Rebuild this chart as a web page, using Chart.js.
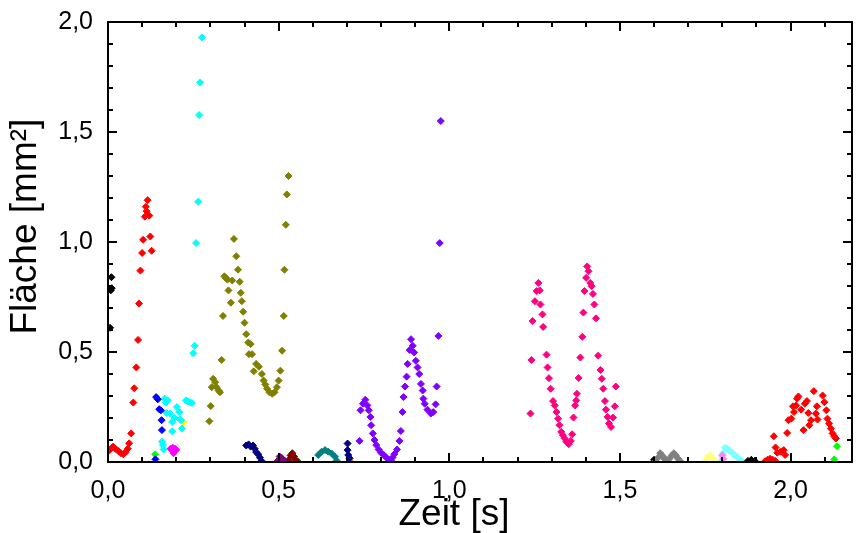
<!DOCTYPE html>
<html>
<head>
<meta charset="utf-8">
<script src="https://cdn.jsdelivr.net/npm/chart.js@4/dist/chart.umd.min.js"></script>
<style>
  html, body { margin: 0; padding: 0; background: #fff; }
</style>
</head>
<body>
<canvas id="myChart" width="858" height="533"></canvas>
<script>
// axis settings
var xMax = 2.18;
var yMax = 2.0;
var minorStep = 0.1;
var majorStep = 0.5;
var xTitle = 'Zeit [s]';
var yTitle = 'Fläche [mm²]';

// measured series, [zeit, fläche]
var black1 = [[0.010,0.84],[0.011,0.79],[0.008,0.78],[0.006,0.61]];
var red1 = [[0.002,0.05],[0.008,0.06],[0.015,0.07],[0.022,0.06],[0.030,0.05],[0.038,0.04],[0.045,0.035],
  [0.052,0.045],[0.058,0.06],[0.062,0.085],[0.068,0.13],[0.074,0.27],[0.077,0.335],[0.083,0.43],
  [0.088,0.555],[0.091,0.72],[0.095,0.87],[0.100,0.95],[0.103,1.01],[0.108,1.115],[0.111,1.16],
  [0.116,1.19],[0.113,1.14],[0.121,1.12],[0.124,1.025],[0.128,0.96]];
var blue1 = [[0.141,0.295],[0.146,0.285],[0.150,0.24],[0.155,0.235],[0.157,0.19],[0.158,0.145],[0.139,0.012]];
var lime1 = [[0.138,0.035],[2.128,0.012],[2.136,0.072]];
var cyan1 = [[0.166,0.288],[0.175,0.28],[0.170,0.27],[0.172,0.223],[0.182,0.22],[0.195,0.2],[0.202,0.25],
  [0.209,0.227],[0.188,0.182],[0.211,0.193],[0.188,0.14],[0.161,0.077],[0.158,0.092],[0.163,0.057],
  [0.229,0.28],[0.234,0.275],[0.240,0.272],[0.246,0.268],[0.214,0.19],[0.217,0.152],
  [0.250,0.494],[0.254,0.528],[0.258,0.995],[0.264,1.183],[0.267,1.577],[0.270,1.725],[0.275,1.93]];
var magenta1 = [[0.183,0.06],[0.190,0.065],[0.197,0.06],[0.200,0.055],[0.192,0.04],[0.195,0.05]];
var yellow1 = [[0.221,0.182]];
var olive1 = [[0.297,0.185],[0.301,0.254],[0.304,0.34],[0.308,0.378],[0.314,0.363],[0.318,0.34],
  [0.324,0.325],[0.328,0.317],[0.333,0.464],[0.337,0.664],[0.341,0.844],[0.345,0.837],[0.350,0.829],
  [0.353,0.78],[0.360,0.724],[0.364,0.825],[0.369,1.014],[0.376,0.935],[0.381,0.874],[0.386,0.819],
  [0.389,0.769],[0.392,0.731],[0.396,0.683],[0.400,0.633],[0.405,0.581],[0.411,0.543],[0.418,0.536],
  [0.413,0.49],[0.422,0.49],[0.434,0.446],[0.442,0.433],[0.427,0.412],[0.451,0.40],[0.456,0.37],
  [0.461,0.352],[0.466,0.333],[0.473,0.317],[0.481,0.31],[0.488,0.317],[0.495,0.34],[0.500,0.37],
  [0.505,0.415],[0.510,0.506],[0.515,0.664],[0.517,0.874],[0.521,1.078],[0.524,1.216],[0.529,1.30]];
var navy1 = [[0.405,0.075],[0.412,0.08],[0.418,0.07],[0.425,0.075],[0.430,0.06],[0.434,0.045],
  [0.440,0.035],[0.445,0.02],[0.450,0.005]];
var purple1 = [[0.497,0.005],[0.503,0.025],[0.508,0.02],[0.513,0.01],[0.518,0.005]];
var maroon1 = [[0.530,0.01],[0.535,0.03],[0.540,0.04],[0.545,0.025],[0.550,0.01]];
var green1 = [[0.553,0.005],[0.557,0.002]];
var teal1 = [[0.616,0.032],[0.626,0.047],[0.636,0.054],[0.645,0.047],[0.655,0.039],[0.665,0.024],[0.670,0.006]];
var navy2 = [[0.702,0.084],[0.702,0.054],[0.704,0.032],[0.708,0.017]];
var orange1 = [[0.711,0.001]];
var violet1 = [[0.737,0.096],[0.740,0.235],[0.747,0.265],[0.754,0.283],[0.760,0.257],[0.764,0.235],
  [0.769,0.205],[0.771,0.167],[0.776,0.13],[0.781,0.10],[0.786,0.077],[0.793,0.057],[0.800,0.042],
  [0.808,0.032],[0.815,0.021],[0.822,0.012],[0.829,0.006],[0.834,0.021],[0.839,0.036],[0.847,0.057],
  [0.854,0.096],[0.858,0.141],[0.863,0.227],[0.866,0.295],[0.870,0.343],[0.875,0.388],[0.878,0.446],
  [0.884,0.509],[0.888,0.558],[0.893,0.528],[0.897,0.498],[0.902,0.46],[0.907,0.43],[0.912,0.40],
  [0.917,0.355],[0.922,0.325],[0.924,0.288],[0.928,0.265],[0.936,0.238],[0.946,0.22],[0.953,0.227],
  [0.960,0.262],[0.963,0.343],[0.968,0.573],[0.972,0.995],[0.975,1.55]];
var pink1 = [[1.238,0.22],[1.241,0.464],[1.244,0.641],[1.251,0.731],[1.256,0.777],[1.261,0.814],
  [1.265,0.78],[1.267,0.716],[1.273,0.671],[1.275,0.614],[1.285,0.488],[1.288,0.43],[1.292,0.381],
  [1.297,0.333],[1.304,0.277],[1.309,0.257],[1.314,0.227],[1.319,0.197],[1.323,0.167],[1.328,0.137],
  [1.333,0.122],[1.338,0.107],[1.343,0.092],[1.350,0.081],[1.356,0.096],[1.360,0.126],[1.364,0.202],
  [1.369,0.257],[1.372,0.28],[1.374,0.31],[1.379,0.382],[1.384,0.475],[1.390,0.569],[1.393,0.679],
  [1.396,0.777],[1.401,0.837],[1.404,0.889],[1.408,0.867],[1.413,0.814],[1.417,0.799],[1.421,0.764],
  [1.425,0.716],[1.430,0.653],[1.436,0.483],[1.443,0.418],[1.447,0.378],[1.451,0.333],[1.456,0.277],
  [1.459,0.238],[1.464,0.205],[1.468,0.175],[1.474,0.159],[1.480,0.202],[1.485,0.253],[1.488,0.343]];
var gray1 = [[1.605,0.005],[1.612,0.02],[1.618,0.04],[1.624,0.03],[1.630,0.015],[1.637,0.01],
  [1.645,0.015],[1.652,0.03],[1.658,0.04],[1.664,0.03],[1.670,0.015],[1.676,0.005]];
var black2 = [[1.600,0.01],[1.875,0.005],[1.885,0.01],[1.895,0.005]];
var lightYellow1 = [[1.752,0.005],[1.758,0.025],[1.765,0.03],[1.772,0.015],[1.778,0.005]];
var lightMagenta1 = [[1.800,0.03],[1.803,0.015]];
var lightCyan1 = [[1.797,0.005],[1.802,0.04],[1.808,0.065],[1.815,0.06],[1.822,0.05],[1.830,0.04],
  [1.838,0.03],[1.845,0.02],[1.852,0.01],[1.858,0.003]];
var red2 = [[1.925,0.003],[1.932,0.01],[1.940,0.015],[1.948,0.01],[1.955,0.005],[1.956,0.066],
  [1.961,0.042],[1.951,0.117],[1.971,0.047],[1.980,0.054],[1.984,0.032],[1.990,0.132],[1.994,0.19],
  [2.002,0.197],[2.010,0.227],[2.016,0.257],[2.019,0.288],[2.023,0.298],[2.007,0.253],[2.031,0.238],
  [2.038,0.145],[2.042,0.265],[2.048,0.277],[2.052,0.223],[2.055,0.167],[2.060,0.19],[2.068,0.322],
  [2.074,0.22],[2.077,0.253],[2.079,0.193],[2.094,0.302],[2.099,0.272],[2.105,0.235],[2.108,0.197],
  [2.113,0.175],[2.118,0.152],[2.123,0.13],[2.128,0.117],[2.133,0.107]];

var seriesList = [black1, red1, blue1, lime1, cyan1, magenta1, yellow1, olive1, navy1, purple1,
  maroon1, green1, teal1, navy2, orange1, violet1, pink1, gray1, black2, lightYellow1,
  lightMagenta1, lightCyan1, red2];
var seriesColors = ['#000000', '#ff0000', '#0000ff', '#00ff00', '#00ffff', '#ff00ff', '#ffff00', '#808000',
  '#000080', '#800080', '#800000', '#008000', '#008080', '#000080', '#ff8000', '#8000ff', '#ff0080',
  '#808080', '#000000', '#ffff80', '#ff80ff', '#80ffff', '#ff0000'];

function fmt(v) {
  var k = v / majorStep;
  if (Math.abs(k - Math.round(k)) > 1e-6) return '';
  return v.toFixed(1).replace('.', ',');
}

var fontFamily = "'Liberation Sans', Arial, sans-serif";

// frame + inward ticks on all four sides, axis titles (offset like the original)
var framePlugin = {
  id: 'frame',
  afterDatasetsDraw: function (chart) {
    var ctx = chart.ctx;
    var a = chart.chartArea;
    var xs = chart.scales.x, ys = chart.scales.y;
    ctx.save();
    ctx.strokeStyle = '#000';
    ctx.lineWidth = 2;
    ctx.strokeRect(a.left, a.top, a.right - a.left, a.bottom - a.top);
    ctx.beginPath();
    for (var i = 0; i * minorStep <= xMax + 1e-9; i++) {
      var v = i * minorStep;
      var px = Math.round(xs.getPixelForValue(v));
      var len = fmt(v) !== '' ? 9 : 5;
      ctx.moveTo(px, a.bottom); ctx.lineTo(px, a.bottom - len);
      ctx.moveTo(px, a.top); ctx.lineTo(px, a.top + len);
    }
    for (var j = 0; j * minorStep <= yMax + 1e-9; j++) {
      var w = j * minorStep;
      var py = Math.round(ys.getPixelForValue(w));
      var l2 = fmt(w) !== '' ? 9 : 5;
      ctx.moveTo(a.left, py); ctx.lineTo(a.left + l2, py);
      ctx.moveTo(a.right, py); ctx.lineTo(a.right - l2, py);
    }
    ctx.stroke();

    ctx.fillStyle = '#000';
    ctx.font = '37px ' + fontFamily;
    ctx.textAlign = 'center';
    ctx.textBaseline = 'middle';
    ctx.fillText(xTitle, a.left + (a.right - a.left) * 0.465, chart.height - 18);
    ctx.translate(26, a.top + (a.bottom - a.top) * 0.465);
    ctx.rotate(-Math.PI / 2);
    ctx.fillText(yTitle, 0, 0);
    ctx.restore();
  }
};

var datasets = seriesList.map(function (s, i) {
  return {
    data: s.map(function (p) { return { x: p[0], y: p[1] }; }),
    backgroundColor: seriesColors[i],
    borderColor: seriesColors[i],
    borderWidth: 1,
    pointStyle: 'rectRot',
    pointRadius: 3.5,
    pointHoverRadius: 3.5,
    showLine: false,
    clip: 0
  };
});

var tickFont = { family: fontFamily, size: 25 };

var ctx = document.getElementById('myChart').getContext('2d');
var myChart = new Chart(ctx, {
  type: 'scatter',
  data: { datasets: datasets },
  options: {
    responsive: false,
    animation: false,
    devicePixelRatio: 1,
    layout: { padding: { top: 19, right: 1, left: 0, bottom: 0 } },
    plugins: { legend: { display: false }, tooltip: { enabled: false } },
    scales: {
      x: {
        type: 'linear',
        min: 0,
        max: xMax,
        grid: { display: false },
        border: { display: false },
        ticks: { stepSize: minorStep, autoSkip: false, maxRotation: 0, padding: 6,
          color: '#000', font: tickFont, callback: fmt },
        afterFit: function (s) { s.height = 71; }
      },
      y: {
        type: 'linear',
        min: 0,
        max: yMax,
        grid: { display: false },
        border: { display: false },
        ticks: { stepSize: minorStep, autoSkip: false, padding: 7,
          color: '#000', font: tickFont, callback: fmt },
        afterFit: function (s) { s.width = 108; }
      }
    }
  },
  plugins: [framePlugin]
});
</script>
</body>
</html>
